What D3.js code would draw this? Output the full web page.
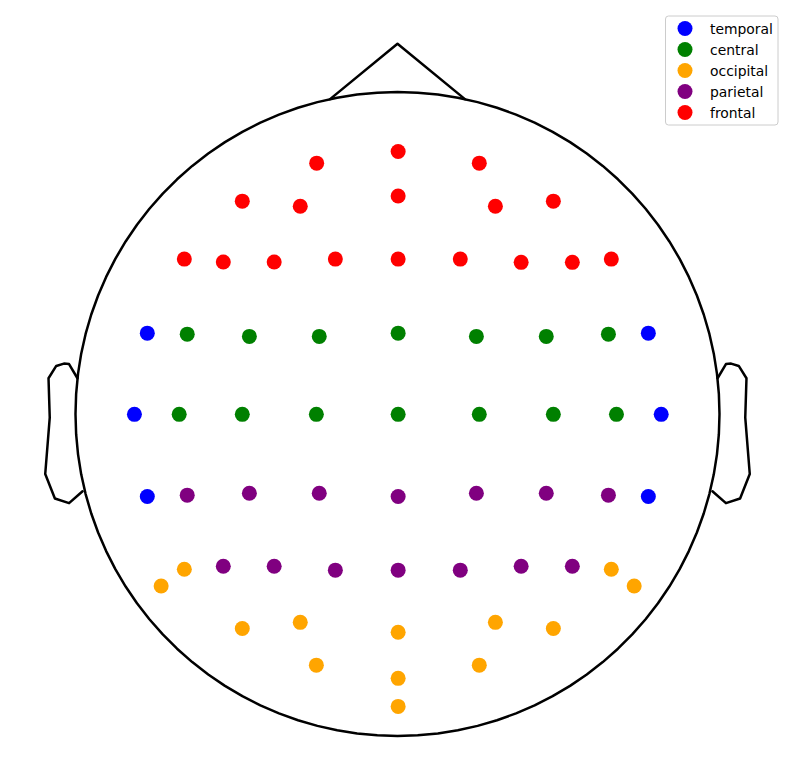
<!DOCTYPE html>
<html>
<head>
<meta charset="utf-8">
<script src="https://cdn.jsdelivr.net/npm/d3@7"></script>
<style>
  html, body { margin: 0; padding: 0; background: #fff; }
  svg { display: block; }
</style>
</head>
<body>
<svg id="chart" width="794" height="781"></svg>
<script>
// Electrode positions in head-radius units (x: left→right, y: back→front)
const regions = ["temporal", "central", "occipital", "parietal", "frontal"];
const regionColors = ["blue", "green", "orange", "purple", "red"];

const temporal = [
  [-0.777, 0.251], [0.779, 0.251],
  [-0.817, -0.001], [0.819, -0.001],
  [-0.777, -0.256], [0.779, -0.256]
];
const central = [
  [-0.653, 0.248], [-0.460, 0.241], [-0.243, 0.241], [0.002, 0.251],
  [0.245, 0.241], [0.462, 0.241], [0.655, 0.248],
  [-0.678, -0.001], [-0.482, -0.001], [-0.252, -0.001], [0.002, -0.001],
  [0.254, -0.001], [0.484, -0.001], [0.680, -0.001]
];
const occipital = [
  [-0.662, -0.482], [0.664, -0.482],
  [-0.734, -0.534], [0.735, -0.534],
  [-0.482, -0.666], [-0.302, -0.647], [0.002, -0.678], [0.304, -0.647], [0.484, -0.666],
  [-0.252, -0.780], [0.254, -0.780],
  [0.002, -0.821], [0.002, -0.908]
];
const parietal = [
  [-0.653, -0.252], [-0.460, -0.246], [-0.243, -0.246], [0.002, -0.256],
  [0.245, -0.246], [0.462, -0.246], [0.655, -0.252],
  [-0.541, -0.473], [-0.383, -0.473], [-0.193, -0.485], [0.002, -0.485],
  [0.195, -0.485], [0.384, -0.473], [0.543, -0.473]
];
const frontal = [
  [-0.251, 0.779], [0.002, 0.815], [0.254, 0.779],
  [-0.482, 0.661], [-0.302, 0.645], [0.002, 0.677], [0.304, 0.645], [0.484, 0.661],
  [-0.662, 0.481], [-0.541, 0.472], [-0.383, 0.472], [-0.193, 0.481], [0.002, 0.481],
  [0.195, 0.481], [0.384, 0.471], [0.543, 0.471], [0.664, 0.481]
];
const regionData = [temporal, central, occipital, parietal, frontal];

// MNE-style head outline (unit radius)
const earX = [0.497, 0.510, 0.518, 0.5299, 0.5419, 0.54, 0.547, 0.532, 0.510, 0.489];
const earY = [0.0555, 0.0775, 0.0783, 0.0746, 0.0555, -0.0055, -0.0932, -0.1313, -0.1384, -0.1199];

const svg = d3.select("#chart");
const cx = 397.5, cy = 414, R = 322;
const x = d3.scaleLinear().domain([-1, 1]).range([cx - R, cx + R]);
const y = d3.scaleLinear().domain([-1, 1]).range([cy + R, cy - R]);
const line = d3.line().x(d => x(d[0])).y(d => y(d[1]));

const outline = svg.append("g")
  .attr("fill", "none").attr("stroke", "black").attr("stroke-width", 2.5)
  .attr("stroke-linejoin", "round").attr("stroke-linecap", "round");

// head circle
const head = d3.range(101).map(i => {
  const a = i / 100 * 2 * Math.PI;
  return [Math.cos(a), Math.sin(a)];
});
outline.append("path").attr("d", line(head));

// nose
const ndx = Math.cos(Math.acos(12 * Math.PI / 180));
const ndy = Math.sqrt(1 - ndx * ndx);
outline.append("path").attr("d", line([[-ndx, ndy], [0, 1.15], [ndx, ndy]]));

// ears
const earR = earX.map((v, i) => [v * 2, earY[i] * 2]);
const earL = earX.map((v, i) => [-v * 2, earY[i] * 2]);
outline.append("path").attr("d", line(earR));
outline.append("path").attr("d", line(earL));

// electrodes
regionData.forEach((pts, k) => {
  svg.append("g").selectAll("circle").data(pts).join("circle")
    .attr("cx", d => x(d[0])).attr("cy", d => y(d[1]))
    .attr("r", 7.5).attr("fill", regionColors[k]);
});

// legend
const lg = svg.append("g").attr("transform", "translate(665.5,16)");
lg.append("rect").attr("width", 112.5).attr("height", 109).attr("rx", 3)
  .attr("fill", "white").attr("fill-opacity", 0.8)
  .attr("stroke", "#cccccc").attr("stroke-width", 1);
regions.forEach((name, i) => {
  const yy = 12.5 + i * 21;
  lg.append("circle").attr("cx", 19.5).attr("cy", yy).attr("r", 7.5).attr("fill", regionColors[i]);
  lg.append("text").attr("x", 44.5).attr("y", yy).attr("dy", "0.36em")
    .attr("font-family", "DejaVu Sans").attr("font-size", 13.9).attr("fill", "#000")
    .text(name);
});
</script>
</body>
</html>
